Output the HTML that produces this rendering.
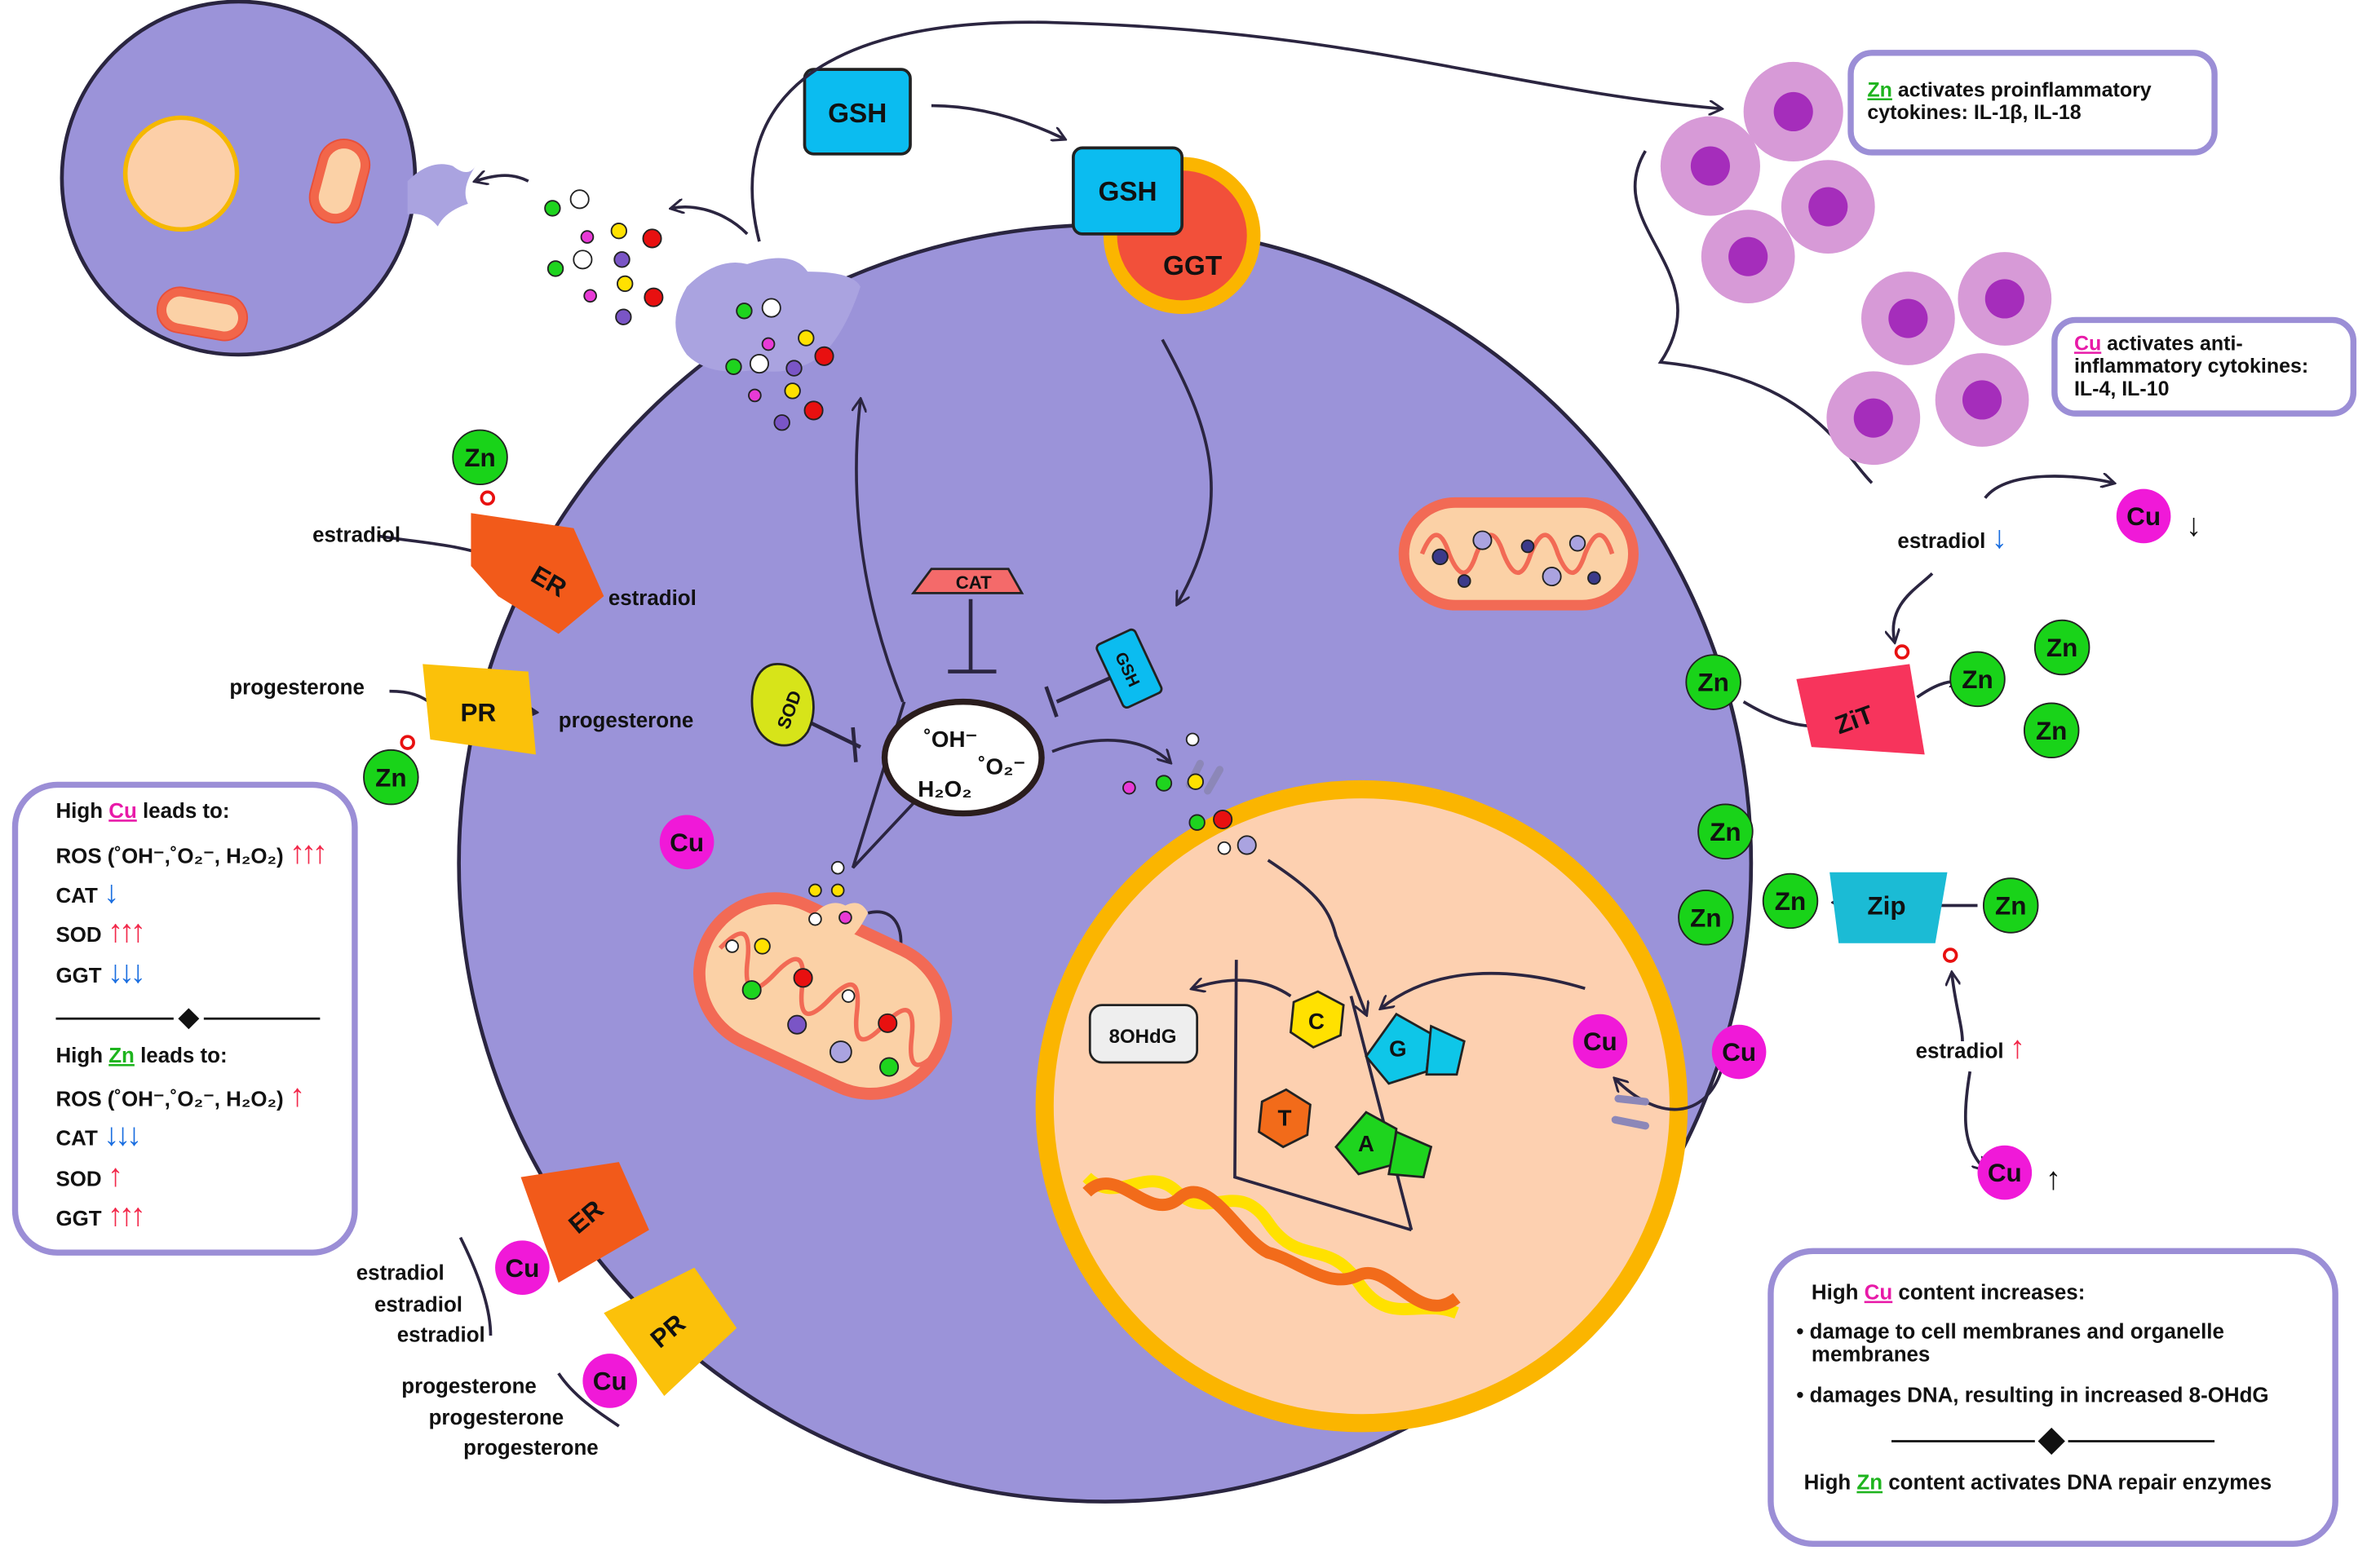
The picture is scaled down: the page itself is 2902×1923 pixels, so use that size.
<!DOCTYPE html>
<html><head><meta charset="utf-8"><style>
html,body{margin:0;padding:0;background:#fff}
svg{display:block}
text{font-family:"Liberation Sans",Arial,sans-serif;font-weight:bold;fill:#111}
.ar{font-size:21px;font-weight:normal}
</style></head><body>
<svg width="2902" height="1923" viewBox="0 0 1568 1039" xmlns="http://www.w3.org/2000/svg">
<defs>
<marker id="ar" markerWidth="10" markerHeight="10" refX="8" refY="5" orient="auto" markerUnits="userSpaceOnUse"><path d="M0,0 L9,5 L0,10" fill="none" stroke="#2b2540" stroke-width="1.6"/></marker>
</defs>
<rect width="1568" height="1039" fill="#fff"/>

<!-- small cell top-left -->
<circle cx="158" cy="118" r="117" fill="#9b93d9" stroke="#2a2540" stroke-width="2.5"/>
<circle cx="120" cy="115" r="37" fill="#fccfa8" stroke="#f5b800" stroke-width="3"/>
<rect x="208" y="92" width="34" height="56" rx="17" fill="#f2664a" stroke="#e8503a" transform="rotate(15 225 120)"/>
<rect x="214" y="98" width="22" height="44" rx="11" fill="#fbd1a6" transform="rotate(15 225 120)"/>
<rect x="104" y="193" width="60" height="30" rx="15" fill="#f2664a" stroke="#e8503a" transform="rotate(10 134 208)"/>
<rect x="110" y="199" width="48" height="18" rx="9" fill="#fbd1a6" transform="rotate(10 134 208)"/>
<path d="M270,120 q15,-15 30,-10 q10,8 15,0 q-10,15 -5,25 q-15,5 -20,15 q-8,-10 -20,-8z" fill="#aaa3e0"/>

<!-- big cell -->
<ellipse cx="732" cy="572" rx="428" ry="423" fill="#9b93d9" stroke="#2a2540" stroke-width="2.5"/>
<path d="M455,190 q20,-20 40,-15 q30,-10 40,5 q30,0 35,10 q-10,30 -25,45 q-20,15 -45,10 q-30,5 -45,-10 q-15,-20 0,-45z" fill="#aaa3e0"/>

<!-- nucleus -->
<circle cx="902" cy="733" r="210" fill="#fdd0b0" stroke="#fbb500" stroke-width="12"/>

<!-- GGT / GSH top -->
<circle cx="783" cy="156" r="52" fill="#fbb500"/>
<circle cx="783" cy="156" r="43" fill="#f2503a"/>
<rect x="711" y="98" width="72" height="57" rx="6" fill="#0bbcf0" stroke="#222" stroke-width="2"/>
<text x="747" y="133" font-size="18" text-anchor="middle">GSH</text>
<text x="790" y="182" font-size="18" text-anchor="middle">GGT</text>
<rect x="533" y="46" width="70" height="56" rx="6" fill="#0bbcf0" stroke="#222" stroke-width="2"/>
<text x="568" y="81" font-size="18" text-anchor="middle">GSH</text>

<!-- curves -->
<g fill="none" stroke="#2b2540" stroke-width="2">
<path d="M503,160 C480,70 540,10 700,15 C900,20 1000,60 1140,72" marker-end="url(#ar)"/>
<path d="M617,70 C650,70 680,80 705,92" marker-end="url(#ar)"/>
<path d="M495,155 C480,140 460,135 445,138" marker-end="url(#ar)"/>
<path d="M350,120 C340,115 330,115 315,120" marker-end="url(#ar)"/>
<path d="M770,225 C800,280 820,330 780,400" marker-end="url(#ar)"/>
<path d="M598,465 C580,420 560,350 570,265" marker-end="url(#ar)"/>
<path d="M697,498 C730,485 760,490 775,505" marker-end="url(#ar)"/>
<path d="M1090,100 C1060,150 1140,180 1100,240 C1200,250 1220,300 1240,320"/>
<path d="M1315,330 C1330,310 1380,315 1400,320" marker-end="url(#ar)"/>
<path d="M1280,380 C1270,390 1250,400 1255,425" marker-end="url(#ar)"/>
<path d="M1155,465 C1180,480 1200,485 1220,478"/>
<path d="M1270,462 C1280,455 1290,450 1300,452" marker-end="url(#ar)"/>
<path d="M1310,600 C1290,600 1260,600 1240,600"/>
<path d="M1230,598 L1215,598" marker-end="url(#ar)"/>
<path d="M1300,690 C1300,680 1295,665 1293,645" marker-end="url(#ar)"/>
<path d="M1305,710 C1300,740 1300,760 1315,775" marker-end="url(#ar)"/>
<path d="M1050,655 C1000,640 950,640 915,668" marker-end="url(#ar)"/>
<path d="M1140,710 C1130,740 1100,745 1070,715" marker-end="url(#ar)"/>
<path d="M840,570 C870,590 880,600 885,620 C895,645 900,660 905,672" marker-end="url(#ar)"/>
<path d="M855,660 C840,650 820,645 790,655" marker-end="url(#ar)"/>
<path d="M575,605 C595,600 600,620 595,635" marker-end="url(#ar)"/>
<path d="M250,355 C280,360 300,360 330,370"/>
<path d="M360,380 L390,388" marker-end="url(#ar)"/>
<path d="M258,458 C270,458 280,460 290,470"/>
<path d="M330,470 L355,472" marker-end="url(#ar)"/>
<path d="M305,820 C320,850 325,870 325,885"/>
<path d="M370,910 C380,925 395,935 410,945"/>
<path d="M599,465 L565,575 L610,527"/>
<path d="M819,636 L818,780 L935,815"/>
<path d="M895,660 L935,815"/>
</g>

<!-- inhibitors -->
<g stroke="#2b2540" stroke-width="2.5" fill="none">
<path d="M535,478 L570,495"/><path d="M565,482 L567,505"/>
<path d="M643,397 L643,445"/><path d="M628,445 L660,445"/>
<path d="M745,445 L700,465"/><path d="M693,455 L700,475"/>
</g>
<path d="M605,393 L677,393 L668,377 L617,377z" fill="#f46a6a" stroke="#222" stroke-width="1.5"/>
<text x="645" y="390" font-size="12" text-anchor="middle">CAT</text>
<path d="M515,440 C535,440 545,465 535,485 C525,500 505,495 500,478 C495,460 500,440 515,440z" fill="#d7e419" stroke="#222" stroke-width="1.5"/>
<text x="522" y="475" font-size="12" text-anchor="middle" transform="rotate(-70 522 470)">SOD</text>
<rect x="734" y="420" width="28" height="46" rx="3" fill="#0bbcf0" stroke="#222" stroke-width="1.5" transform="rotate(-25 748 443)"/>
<text x="748" y="448" font-size="11" text-anchor="middle" transform="rotate(65 748 443)">GSH</text>

<!-- ROS ellipse -->
<ellipse cx="638" cy="502" rx="52" ry="37" fill="#fff" stroke="#2a1d1d" stroke-width="4"/>
<text x="612" y="495" font-size="15">˚OH⁻</text>
<text x="648" y="513" font-size="15">˚O₂⁻</text>
<text x="608" y="528" font-size="15">H₂O₂</text>

<!-- mitochondria -->
<g transform="rotate(25 545 660)">
<rect x="460" y="610" width="170" height="100" rx="50" fill="#fbd1a6" stroke="#f26a55" stroke-width="8"/>
<path d="M470,660 q10,-30 20,0 q10,30 20,0 q10,-30 20,0 q10,30 20,0 q10,-30 20,0 q10,30 20,0 q10,-30 20,0 q10,30 20,0" fill="none" stroke="#f26a55" stroke-width="3"/>
</g>
<g stroke="#222" stroke-width="1">
<circle cx="498" cy="656" r="6" fill="#1ed41e"/><circle cx="532" cy="648" r="6" fill="#e81010"/><circle cx="528" cy="679" r="6" fill="#7a55c6"/><circle cx="557" cy="697" r="7" fill="#aaa3e0"/><circle cx="588" cy="678" r="6" fill="#e81010"/><circle cx="589" cy="707" r="6" fill="#1ed41e"/><circle cx="562" cy="660" r="4" fill="#fff"/><circle cx="485" cy="627" r="4" fill="#fff"/><circle cx="505" cy="627" r="5" fill="#ffe100"/>
</g>
<path d="M540,605 q10,-10 20,-5 q10,-5 15,5 q-5,10 -10,15 q-15,5 -25,-15z" fill="#fbd1a6"/>
<rect x="930" y="333" width="152" height="68" rx="34" fill="#fbd1a6" stroke="#f26a55" stroke-width="7"/>
<path d="M942,367 q10,-25 18,0 q10,25 18,0 q10,-25 18,0 q10,25 18,0 q10,-25 18,0 q10,25 18,0 q10,-25 18,0" fill="none" stroke="#f26a55" stroke-width="3"/>
<g stroke="#222" stroke-width="1">
<circle cx="954" cy="369" r="5" fill="#3b3a8a"/><circle cx="982" cy="358" r="6" fill="#aaa3e0"/><circle cx="1012" cy="362" r="4" fill="#3b3a8a"/><circle cx="1028" cy="382" r="6" fill="#aaa3e0"/><circle cx="1045" cy="360" r="5" fill="#aaa3e0"/><circle cx="1056" cy="383" r="4" fill="#3b3a8a"/><circle cx="970" cy="385" r="4" fill="#3b3a8a"/>
</g>

<!-- nuclear pores -->
<g stroke="#8c87b8" stroke-width="5" stroke-linecap="round">
<path d="M788,520 L795,506"/><path d="M800,524 L808,510"/>
<path d="M1072,728 L1090,730"/><path d="M1070,742 L1090,746"/>
</g>

<!-- 8OHdG -->
<rect x="722" y="666" width="71" height="38" rx="8" fill="#eee" stroke="#222" stroke-width="1.5"/>
<text x="757" y="691" font-size="13" text-anchor="middle" font-weight="normal">8OHdG</text>

<!-- bases -->
<polygon points="873,657 890,666 888,686 870,694 855,684 857,664" fill="#ffe100" stroke="#222" stroke-width="1.5"/>
<text x="872" y="682" font-size="15" text-anchor="middle">C</text>
<polygon points="925,672 948,685 945,710 920,718 905,700" fill="#0ec6e8" stroke="#222" stroke-width="1.5"/>
<polygon points="948,680 970,690 965,712 945,712" fill="#0ec6e8" stroke="#222" stroke-width="1.5"/>
<text x="926" y="700" font-size="15" text-anchor="middle">G</text>
<polygon points="852,722 868,732 866,752 850,760 834,750 836,730" fill="#f26b1a" stroke="#222" stroke-width="1.5"/>
<text x="851" y="746" font-size="15" text-anchor="middle">T</text>
<polygon points="905,737 925,748 922,772 900,778 885,760" fill="#1ed41e" stroke="#222" stroke-width="1.5"/>
<polygon points="925,750 948,760 943,780 920,778" fill="#1ed41e" stroke="#222" stroke-width="1.5"/>
<text x="905" y="763" font-size="15" text-anchor="middle">A</text>

<!-- DNA helix -->
<path d="M720,780 C740,800 760,770 780,790 C800,810 820,780 840,810 C860,840 880,820 900,850 C920,880 940,860 965,870" fill="none" stroke="#ffe100" stroke-width="8"/>
<path d="M720,790 C740,770 760,810 780,795 C800,775 820,820 840,830 C860,835 880,855 900,845 C920,835 940,880 965,860" fill="none" stroke="#f26b1a" stroke-width="8"/>

<!-- receptors -->
<g font-size="17">
<path d="M312,340 L380,350 L400,395 L370,420 L330,395 L312,375z" fill="#f25a1a"/>
<text x="353" y="385" transform="rotate(30 353 380)">ER</text>
<path d="M280,440 L350,445 L355,500 L285,490z" fill="#fbc10a"/>
<text x="305" y="478">PR</text>
<path d="M345,780 L410,770 L430,815 L370,850z" fill="#f25a1a"/>
<text x="378" y="815" transform="rotate(-40 385 810)">ER</text>
<path d="M400,870 L460,840 L488,880 L440,925z" fill="#fbc10a"/>
<text x="432" y="890" transform="rotate(-40 440 885)">PR</text>
<path d="M1190,450 L1265,440 L1275,500 L1200,495z" fill="#f7345c"/>
<text x="1215" y="482" transform="rotate(-20 1230 475)" fill="#fff">ZiT</text>
<path d="M1212,578 L1290,578 L1282,625 L1218,625z" fill="#1bbbd5"/>
<text x="1237" y="606">Zip</text>
</g>
<!-- starbursts -->
<g fill="none" stroke="#e81010" stroke-width="2">
<circle cx="323" cy="330" r="4"/><circle cx="270" cy="492" r="4"/><circle cx="1260" cy="432" r="4"/><circle cx="1292" cy="633" r="4"/>
</g>

<!-- text labels -->
<g font-size="14">
<text x="207" y="359">estradiol</text>
<text x="403" y="401">estradiol</text>
<text x="152" y="460">progesterone</text>
<text x="370" y="482">progesterone</text>
<text x="236" y="848">estradiol</text>
<text x="248" y="869">estradiol</text>
<text x="263" y="889">estradiol</text>
<text x="266" y="923">progesterone</text>
<text x="284" y="944">progesterone</text>
<text x="307" y="964">progesterone</text>
<text x="1257" y="363">estradiol <tspan class="ar" fill="#1a6ee0">↓</tspan></text>
<text x="1269" y="701">estradiol <tspan class="ar" fill="#f2284a">↑</tspan></text>
</g>

<!-- ions -->
<g font-size="17" text-anchor="middle">
<circle cx="318" cy="303" r="18" fill="#19d319" stroke="#222"/><text x="318" y="309">Zn</text>
<circle cx="259" cy="515" r="18" fill="#19d319" stroke="#222"/><text x="259" y="521">Zn</text>
<circle cx="1135" cy="452" r="18" fill="#19d319" stroke="#222"/><text x="1135" y="458">Zn</text>
<circle cx="1310" cy="450" r="18" fill="#19d319" stroke="#222"/><text x="1310" y="456">Zn</text>
<circle cx="1366" cy="429" r="18" fill="#19d319" stroke="#222"/><text x="1366" y="435">Zn</text>
<circle cx="1359" cy="484" r="18" fill="#19d319" stroke="#222"/><text x="1359" y="490">Zn</text>
<circle cx="1143" cy="551" r="18" fill="#19d319" stroke="#222"/><text x="1143" y="557">Zn</text>
<circle cx="1130" cy="608" r="18" fill="#19d319" stroke="#222"/><text x="1130" y="614">Zn</text>
<circle cx="1186" cy="597" r="18" fill="#19d319" stroke="#222"/><text x="1186" y="603">Zn</text>
<circle cx="1332" cy="600" r="18" fill="#19d319" stroke="#222"/><text x="1332" y="606">Zn</text>
<circle cx="455" cy="558" r="18" fill="#f019d8"/><text x="455" y="564">Cu</text>
<circle cx="1060" cy="690" r="18" fill="#f019d8"/><text x="1060" y="696">Cu</text>
<circle cx="1152" cy="697" r="18" fill="#f019d8"/><text x="1152" y="703">Cu</text>
<circle cx="1420" cy="342" r="18" fill="#f019d8"/><text x="1420" y="348">Cu</text>
<circle cx="1328" cy="777" r="18" fill="#f019d8"/><text x="1328" y="783">Cu</text>
<circle cx="346" cy="840" r="18" fill="#f019d8"/><text x="346" y="846">Cu</text>
<circle cx="404" cy="915" r="18" fill="#f019d8"/><text x="404" y="921">Cu</text>
</g>
<text x="1448" y="355" class="ar" font-size="24" fill="#1a6ee0">↓</text>
<text x="1355" y="788" class="ar" font-size="24" fill="#f2284a">↑</text>

<!-- dots -->
<g stroke="#222" stroke-width="1">
<circle cx="384" cy="132" r="6" fill="#fff"/><circle cx="366" cy="138" r="5" fill="#1ed41e"/><circle cx="389" cy="157" r="4" fill="#e83ad6"/><circle cx="386" cy="172" r="6" fill="#fff"/><circle cx="410" cy="153" r="5" fill="#ffe100"/><circle cx="432" cy="158" r="6" fill="#e81010"/><circle cx="412" cy="172" r="5" fill="#7a55c6"/><circle cx="368" cy="178" r="5" fill="#1ed41e"/><circle cx="391" cy="196" r="4" fill="#e83ad6"/><circle cx="414" cy="188" r="5" fill="#ffe100"/><circle cx="433" cy="197" r="6" fill="#e81010"/><circle cx="413" cy="210" r="5" fill="#7a55c6"/>
<circle cx="511" cy="204" r="6" fill="#fff"/><circle cx="493" cy="206" r="5" fill="#1ed41e"/><circle cx="509" cy="228" r="4" fill="#e83ad6"/><circle cx="503" cy="241" r="6" fill="#fff"/><circle cx="534" cy="224" r="5" fill="#ffe100"/><circle cx="546" cy="236" r="6" fill="#e81010"/><circle cx="526" cy="244" r="5" fill="#7a55c6"/><circle cx="486" cy="243" r="5" fill="#1ed41e"/><circle cx="500" cy="262" r="4" fill="#e83ad6"/><circle cx="525" cy="259" r="5" fill="#ffe100"/><circle cx="539" cy="272" r="6" fill="#e81010"/><circle cx="518" cy="280" r="5" fill="#7a55c6"/>
<circle cx="790" cy="490" r="4" fill="#fff"/><circle cx="748" cy="522" r="4" fill="#e83ad6"/><circle cx="771" cy="519" r="5" fill="#1ed41e"/><circle cx="792" cy="518" r="5" fill="#ffe100"/><circle cx="793" cy="545" r="5" fill="#1ed41e"/><circle cx="810" cy="543" r="6" fill="#e81010"/><circle cx="811" cy="562" r="4" fill="#fff"/><circle cx="826" cy="560" r="6" fill="#aaa3e0"/>
<circle cx="555" cy="575" r="4" fill="#fff"/><circle cx="540" cy="590" r="4" fill="#ffe100"/><circle cx="555" cy="590" r="4" fill="#ffe100"/><circle cx="540" cy="609" r="4" fill="#fff"/><circle cx="560" cy="608" r="4" fill="#e83ad6"/>
</g>

<!-- inflammatory cells -->
<g>
<circle cx="1188" cy="74" r="33" fill="#d79ad7"/><circle cx="1188" cy="74" r="13" fill="#a52dbb"/>
<circle cx="1133" cy="110" r="33" fill="#d79ad7"/><circle cx="1133" cy="110" r="13" fill="#a52dbb"/>
<circle cx="1211" cy="137" r="31" fill="#d79ad7"/><circle cx="1211" cy="137" r="13" fill="#a52dbb"/>
<circle cx="1158" cy="170" r="31" fill="#d79ad7"/><circle cx="1158" cy="170" r="13" fill="#a52dbb"/>
<circle cx="1264" cy="211" r="31" fill="#d79ad7"/><circle cx="1264" cy="211" r="13" fill="#a52dbb"/>
<circle cx="1328" cy="198" r="31" fill="#d79ad7"/><circle cx="1328" cy="198" r="13" fill="#a52dbb"/>
<circle cx="1241" cy="277" r="31" fill="#d79ad7"/><circle cx="1241" cy="277" r="13" fill="#a52dbb"/>
<circle cx="1313" cy="265" r="31" fill="#d79ad7"/><circle cx="1313" cy="265" r="13" fill="#a52dbb"/>
</g>

<!-- boxes -->
<g fill="#fff" stroke="#9b8ed6" stroke-width="4">
<rect x="1226" y="35" width="241" height="66" rx="14"/>
<rect x="1361" y="212" width="198" height="62" rx="14"/>
<rect x="10" y="520" width="225" height="310" rx="28"/>
<rect x="1173" y="829" width="374" height="194" rx="28"/>
</g>
<g font-size="13.5">
<text x="1237" y="64"><tspan fill="#1eb41e" text-decoration="underline">Zn</tspan> activates proinflammatory</text>
<text x="1237" y="79">cytokines: IL-1β, IL-18</text>
<text x="1374" y="232"><tspan fill="#e81aa8" text-decoration="underline">Cu</tspan> activates anti-</text>
<text x="1374" y="247">inflammatory cytokines:</text>
<text x="1374" y="262">IL-4, IL-10</text>
</g>
<g font-size="14">
<text x="37" y="542">High <tspan fill="#e81aa8" text-decoration="underline">Cu</tspan> leads to:</text>
<text x="37" y="572">ROS (˚OH⁻,˚O₂⁻, H₂O₂) <tspan class="ar" fill="#f2284a" letter-spacing="-3">↑↑↑</tspan></text>
<text x="37" y="598">CAT <tspan class="ar" fill="#1a6ee0">↓</tspan></text>
<text x="37" y="624">SOD <tspan class="ar" fill="#f2284a" letter-spacing="-3">↑↑↑</tspan></text>
<text x="37" y="651">GGT <tspan class="ar" fill="#1a6ee0" letter-spacing="-3">↓↓↓</tspan></text>
<text x="37" y="704">High <tspan fill="#1eb41e" text-decoration="underline">Zn</tspan> leads to:</text>
<text x="37" y="733">ROS (˚OH⁻,˚O₂⁻, H₂O₂) <tspan class="ar" fill="#f2284a">↑</tspan></text>
<text x="37" y="759">CAT <tspan class="ar" fill="#1a6ee0" letter-spacing="-3">↓↓↓</tspan></text>
<text x="37" y="786">SOD <tspan class="ar" fill="#f2284a">↑</tspan></text>
<text x="37" y="812">GGT <tspan class="ar" fill="#f2284a" letter-spacing="-3">↑↑↑</tspan></text>
<text x="1200" y="861">High <tspan fill="#e81aa8" text-decoration="underline">Cu</tspan> content increases:</text>
<text x="1190" y="887">• damage to cell membranes and organelle</text>
<text x="1200" y="902">membranes</text>
<text x="1190" y="929">• damages DNA, resulting in increased 8-OHdG</text>
<text x="1195" y="987">High <tspan fill="#1eb41e" text-decoration="underline">Zn</tspan> content activates DNA repair enzymes</text>
</g>
<g stroke="#111" stroke-width="1.5">
<line x1="37" y1="675" x2="115" y2="675"/><line x1="135" y1="675" x2="212" y2="675"/>
<line x1="1253" y1="955" x2="1348" y2="955"/><line x1="1370" y1="955" x2="1467" y2="955"/>
</g>
<path d="M125,668 L132,675 L125,682 L118,675z" fill="#111"/>
<path d="M1359,946 L1368,955 L1359,964 L1350,955z" fill="#111"/>
</svg>
</body></html>
